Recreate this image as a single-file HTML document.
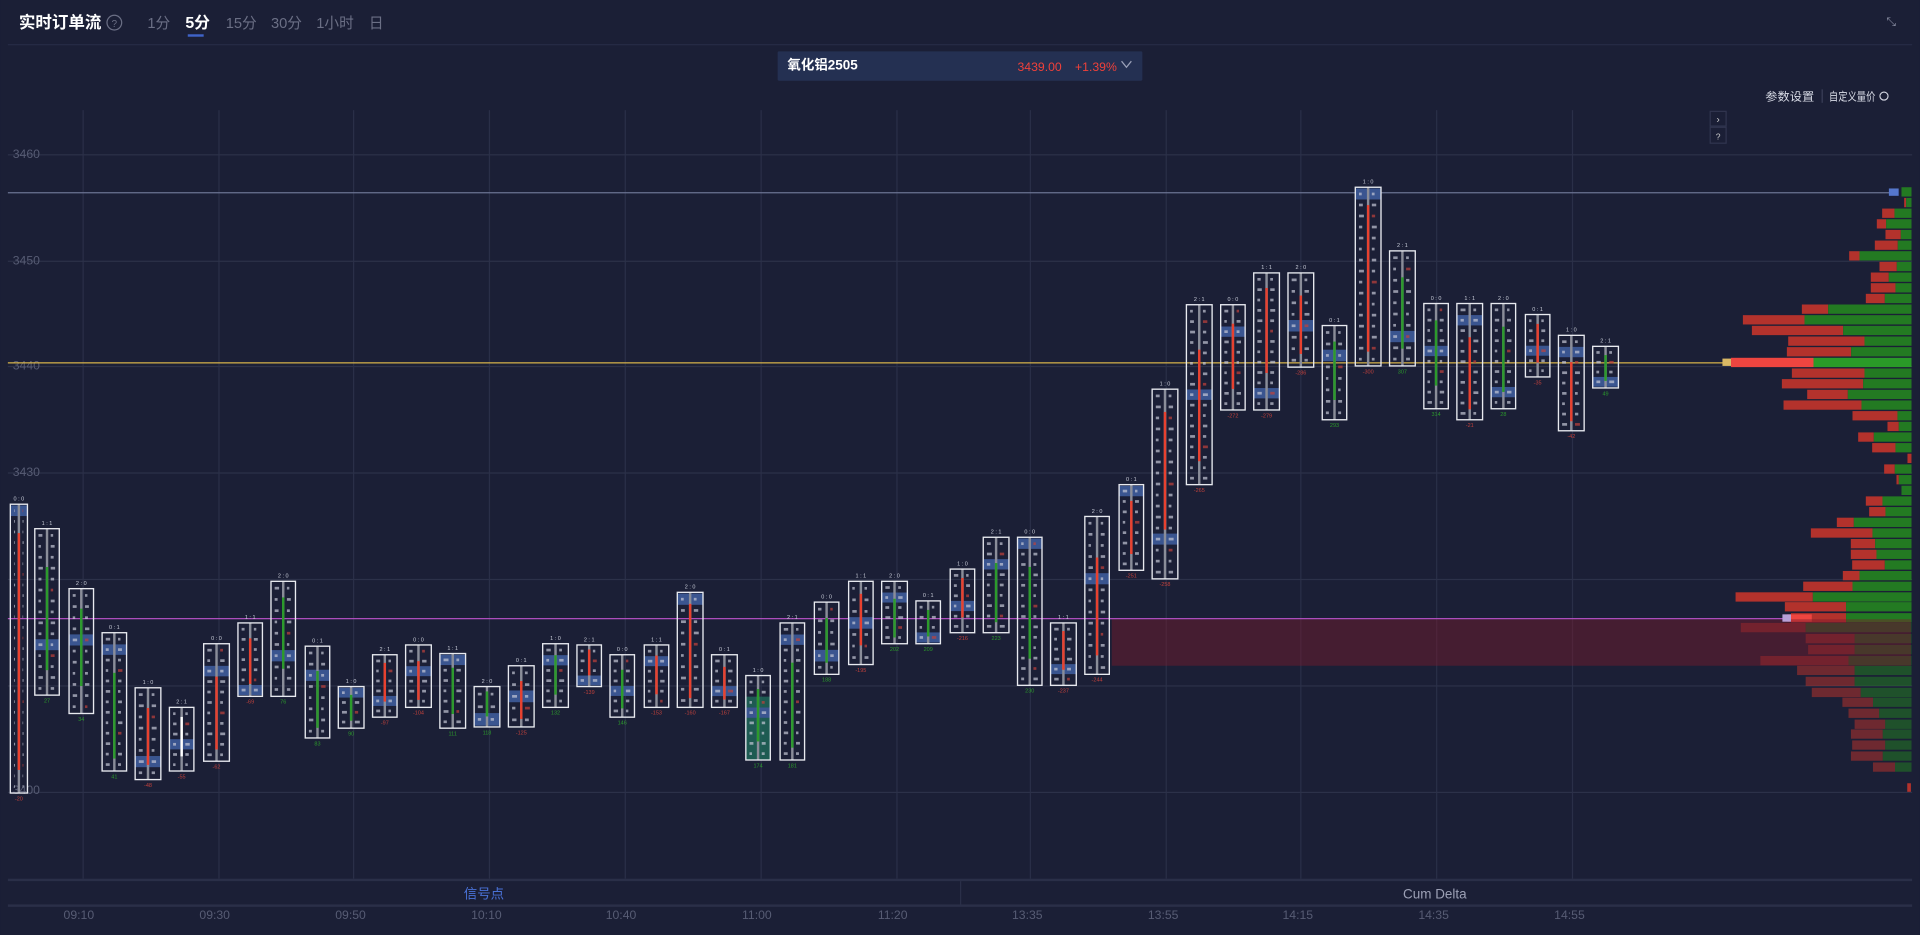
<!DOCTYPE html>
<html><head><meta charset="utf-8">
<style>
html,body{margin:0;padding:0;background:#1b1f36;overflow:hidden}
svg{display:block}
text{font-family:"Liberation Sans","Noto Sans CJK SC",sans-serif}
</style></head>
<body>
<svg id="s" width="1920" height="935" viewBox="0 0 1568 764" xmlns="http://www.w3.org/2000/svg">
<rect width="1568" height="764" fill="#1b1f36"/>
<text x="15" y="23" fill="#fff" font-size="13.5" font-weight="bold">实时订单流</text>
<circle cx="93" cy="18.5" r="6" fill="none" stroke="#6b6f85" stroke-width="1"/>
<text x="93" y="22" fill="#6b6f85" font-size="8" text-anchor="middle">?</text>
<text x="120" y="23" fill="#6b6f85" font-size="12">1分</text>
<text x="151" y="23" fill="#fff" font-size="13" font-weight="bold">5分</text>
<rect x="153" y="28" width="13" height="2" fill="#3f63c8"/>
<text x="184" y="23" fill="#6b6f85" font-size="12">15分</text>
<text x="221" y="23" fill="#6b6f85" font-size="12">30分</text>
<text x="258" y="23" fill="#6b6f85" font-size="12">1小时</text>
<text x="301" y="23" fill="#6b6f85" font-size="12">日</text>
<text x="1545" y="21" fill="#8a8ea3" font-size="10" text-anchor="middle">⤡</text>
<rect x="6" y="36" width="1556" height="1" fill="#262b45"/>
<rect x="635" y="42" width="298" height="24" rx="1" fill="#243052"/>
<text x="643" y="57" fill="#fff" font-size="11" font-weight="bold">氧化铝2505</text>
<text x="831" y="58" fill="#f0413a" font-size="10">3439.00</text>
<text x="878" y="58" fill="#f0413a" font-size="10">+1.39%</text>
<path d="M916 50 L920 55 L924 50" fill="none" stroke="#9aa0b8" stroke-width="1"/>
<text x="1442" y="82" fill="#d8dbe6" font-size="9.5" textLength="40" lengthAdjust="spacingAndGlyphs">参数设置</text>
<rect x="1488" y="73" width="1" height="11" fill="#3a3f58"/>
<text x="1494" y="82" fill="#d8dbe6" font-size="9.5" textLength="38" lengthAdjust="spacingAndGlyphs">自定义量价</text>
<circle cx="1539" cy="78.5" r="3.3" fill="none" stroke="#d8dbe6" stroke-width="0.9"/>
<rect x="1397" y="91" width="13" height="12" fill="#1b1f36" stroke="#30354f"/>
<text x="1403.5" y="100" fill="#ccc" font-size="8" text-anchor="middle">›</text>
<rect x="1397" y="104" width="13" height="13" fill="#1b1f36" stroke="#30354f"/>
<text x="1403.5" y="114" fill="#ccc" font-size="7" text-anchor="middle">?</text>
<g id="grid"></g>
<g fill="#575c74" font-size="10">
<text x="10" y="129">3460</text><text x="10" y="216">3450</text><text x="10" y="302">3440</text>
<text x="10" y="389">3430</text><text x="10" y="649">3400</text>
</g>
<g id="prof"></g>
<rect x="908" y="506" width="653" height="38" fill="#7a1a2c" opacity="0.45"/>
<rect x="6" y="157" width="1541" height="1" fill="#6c7494"/>
<rect x="1543" y="154" width="8" height="6" fill="#5577cc"/>
<rect x="6" y="296" width="1404" height="1" fill="#d9b54a"/>
<rect x="1407" y="293" width="7" height="6" fill="#d9b865"/>
<rect x="6" y="505" width="1452" height="1" fill="#b14fc0"/>
<rect x="1456" y="502" width="7" height="6" fill="#b8a0d8"/>
<g id="cdl"></g>
<rect x="6" y="718" width="1556" height="2" fill="#2a2f48"/>
<rect x="784" y="720" width="1" height="20" fill="#2a2f48"/>
<text x="395" y="734" fill="#4a72d8" font-size="11" text-anchor="middle">信号点</text>
<text x="1172" y="734" fill="#9ca0b5" font-size="11" text-anchor="middle">Cum Delta</text>
<rect x="6" y="739" width="1556" height="2" fill="#2a2f48"/>
<g fill="#575c74" font-size="10" text-anchor="middle">
<text x="64" y="751">09:10</text><text x="175" y="751">09:30</text><text x="286" y="751">09:50</text>
<text x="397" y="751">10:10</text><text x="507" y="751">10:40</text><text x="618" y="751">11:00</text>
<text x="729" y="751">11:20</text><text x="839" y="751">13:35</text><text x="950" y="751">13:55</text>
<text x="1060" y="751">14:15</text><text x="1171" y="751">14:35</text><text x="1282" y="751">14:55</text>
</g>
</svg>
<script>
var NS="http://www.w3.org/2000/svg";
function el(p,t,a){var e=document.createElementNS(NS,t);for(var k in a)e.setAttribute(k,a[k]);p.appendChild(e);return e;}
var g=document.getElementById('grid');
[67,178,288,399,510,621,732,841,952,1062,1173,1284].forEach(function(x){el(g,'rect',{x:x,y:90,width:1,height:628,fill:'#2a2f48'});});
[126,213,299,386,473,560,647].forEach(function(y){el(g,'rect',{x:6,y:y,width:1556,height:1,fill:'#2c3149'});});
var P=document.getElementById('prof');var S=1.2245;
var rows=[[606,606],[614,620],[548,585],[532,560],[558,604],[526,595],[449,480],[540,592],[514,568],[514,588],[499,556],[307,386],[130,315],[157,431],[266,495],[262,455],[75,342],[277,495],[247,491],[323,445],[252,486],[459,594],[564,598],[476,523],[518,588],[624,636],[554,586],[591,598],[606,606],[499,549],[509,558],[412,463],[334,519],[454,527],[454,531],[458,556],[430,480],[311,459],[108,340]];
var R=1561.5;
rows.forEach(function(r,i){var y=153+i*8.71;var l=(1700+r[0]/3)/S,sp=(1700+r[1]/3)/S;
 if(i==16){l=1414;}
 var rc=i==16?'#ee4540':'#b3322c',gc=i==16?'#2a9a28':'#237a22';
 if(sp>l)el(P,'rect',{x:l,y:y,width:sp-l,height:7.6,fill:rc});
 if(i==25)return; el(P,'rect',{x:sp,y:y,width:R-sp,height:7.6,fill:gc});});
var rows2=[[496,1458,1508],[505,1463,1508],[513,1422,1475],[522,1475,1515],[531,1477,1515],[540,1438,1510],[548,1468,1515],[557,1475,1515],[566,1480,1520],[574,1505,1530],[583,1510,1535],[592,1515,1540],[600,1512,1538],[609,1513,1540],[618,1512,1538],[627,1530,1548]];
rows2.forEach(function(r){var o=r[0]>=510?0.55:1;el(P,'rect',{x:r[1],y:r[0]-4,width:r[2]-r[1],height:7.6,fill:'#b3322c',opacity:o});el(P,'rect',{x:r[2],y:r[0]-4,width:R-r[2],height:7.6,fill:'#237a22',opacity:o});});
el(P,'rect',{x:1558,y:640,width:3,height:7,fill:'#b3322c'});
el(P,'rect',{x:1460,y:502,width:20,height:6,fill:'#ee4540'});
var C=[[8,22,412,648,'r'],[28,48,432,568,'g'],[56,76,481,583,'g'],[83,103,517,630,'g'],[110,131,562,637,'r'],[138,158,578,630,'w'],[166,187,526,622,'r'],[194,214,509,569,'r'],[221,241,475,569,'g'],[249,269,528,603,'g'],[276,297,561,595,'g'],[304,324,535,586,'r'],[331,352,527,578,'r'],[359,380,534,595,'g'],[387,408,561,594,'g'],[415,436,544,594,'r'],[443,464,526,578,'g'],[471,491,527,561,'r'],[498,518,535,586,'g'],[526,546,527,578,'r'],[553,574,484,578,'r'],[581,602,535,578,'r'],[609,629,552,621,'g'],[637,657,509,621,'g'],[665,685,492,551,'g'],[693,713,475,543,'r'],[720,741,475,526,'g'],[748,768,491,526,'g'],[776,796,465,517,'r'],[803,824,439,517,'g'],[831,851,439,560,'g'],[858,879,509,560,'r'],[886,906,422,551,'r'],[914,934,396,466,'r'],[941,962,318,473,'r'],[969,990,249,396,'r'],[997,1017,249,335,'r'],[1024,1045,223,335,'r'],[1052,1073,223,300,'r'],[1080,1100,266,343,'g'],[1107,1128,153,299,'r'],[1135,1156,205,299,'g'],[1163,1183,248,334,'g'],[1190,1211,248,343,'r'],[1218,1238,248,334,'g'],[1246,1266,257,308,'r'],[1273,1294,274,352,'r'],[1301,1322,283,317,'g']];
var K=document.getElementById('cdl');
C.forEach(function(c,i){var x1=c[0],x2=c[1],t=c[2],b=c[3],w=x2-x1,h=b-t,cx=(x1+x2)/2;
 var n=Math.max(2,Math.round((h-3)/8.71));var rh=(h-2)/n;
 if(i==22)el(K,'rect',{x:x1,y:t+h*0.25,width:w,height:h*0.75,fill:'#1f6a5a',opacity:0.8});
 var poc=Math.floor(n*((i*37)%10)/10);
 el(K,'rect',{x:x1,y:t+1+poc*rh,width:w,height:rh,fill:'#3a5590'});
 for(var k=0;k<n;k++){var y=t+1+k*rh+rh/2-1.1;
  el(K,'rect',{x:x1+3,y:y,width:(w/2-6)*(0.5+((k*7+i*3)%5)/10),height:2.2,fill:'#c4c8d6',opacity:0.7});
  el(K,'rect',{x:cx+3,y:y,width:(w/2-6)*(0.5+((k*3+i*5)%5)/10),height:2.2,fill:(k+i)%6==0?'#c0413c':'#c4c8d6',opacity:0.7});}
 el(K,'rect',{x:cx-1,y:t,width:2,height:h,fill:'#8a8d99'});
 var col=c[4]=='r'?'#e8412f':c[4]=='g'?'#2c9a2c':'#ffffff';
 var s0=t+h*(0.1+((i*13)%20)/100),s1=b-h*(0.08+((i*7)%20)/100);
 el(K,'rect',{x:cx-1,y:s0,width:2,height:Math.max(4,s1-s0),fill:col});
 el(K,'rect',{x:x1,y:t,width:w,height:h,fill:'none',stroke:'#e8eaf0','stroke-width':1.1});
 var tx=el(K,'text',{x:cx,y:t-3,'font-size':4.5,fill:'#c8ccd8','text-anchor':'middle'});tx.textContent=(i%3)+' : '+(i%2);
 var dx=el(K,'text',{x:cx,y:b+6,'font-size':4.5,fill:c[4]=='g'?'#2c9a2c':'#c0413c','text-anchor':'middle'});dx.textContent=(c[4]=='g'?'':'-')+(20+i*7%300);
});
</script>
</body></html>
